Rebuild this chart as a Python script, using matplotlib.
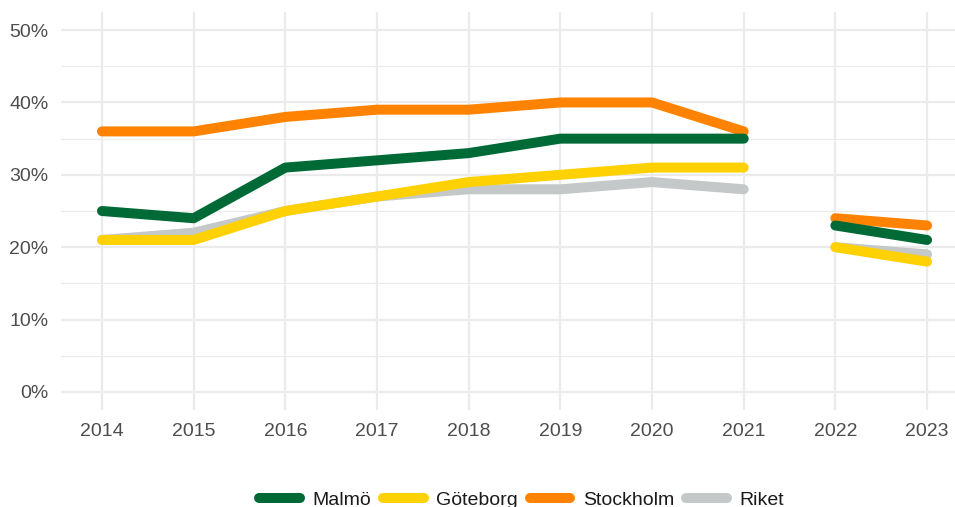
import matplotlib
matplotlib.use("Agg")
import matplotlib.pyplot as plt
import numpy as np

years = ["2014", "2015", "2016", "2017", "2018", "2019", "2020", "2021", "2022", "2023"]
malmo = [25, 24, 31, 32, 33, 35, 35, 35, np.nan, 23, 21]
goteborg = [21, 21, 25, 27, 29, 30, 31, 31, np.nan, 20, 18]
stockholm = [36, 36, 38, 39, 39, 40, 40, 36, np.nan, 24, 23]
riket = [21, 22, 25, 27, 28, 28, 29, 28, np.nan, 20, 19]

series_names = ["Malmö", "Göteborg", "Stockholm", "Riket"]
colors = {"Malmö": "#006A37", "Göteborg": "#FFD100", "Stockholm": "#FF8200", "Riket": "#C4C8C9"}
data = {"Malmö": malmo, "Göteborg": goteborg, "Stockholm": stockholm, "Riket": riket}

plt.rcParams['font.family'] = ['Liberation Sans', 'DejaVu Sans']

fig = plt.figure(figsize=(9.55, 5.07), dpi=100)
ax = fig.add_axes([61/955, (507-410)/507, (955-61)/955, (410-12)/507])

# x positions: years with a break between 2021 and 2022
xpos = list(range(8)) + [np.nan] + [8, 9]

draw_order = ["Riket", "Göteborg", "Stockholm", "Malmö"]
handles = {}
for name in draw_order:
    vals = np.array(data[name], dtype=float)
    xs = np.array(xpos, dtype=float)
    segs = []
    cur_x, cur_y = [], []
    for x, y in zip(xs, vals):
        if np.isnan(x) or np.isnan(y):
            if cur_x:
                segs.append((cur_x, cur_y))
            cur_x, cur_y = [], []
        else:
            cur_x.append(x); cur_y.append(y)
    if cur_x:
        segs.append((cur_x, cur_y))
    for i, (sx, sy) in enumerate(segs):
        ln, = ax.plot(sx, sy, color=colors[name], lw=7.2, solid_capstyle='round',
                      solid_joinstyle='round')
        if i == 0:
            handles[name] = ln

ax.set_xlim(-0.447, 9.305)
ax.set_ylim(-2.5, 52.5)
ax.set_xticks(range(10))
ax.set_xticklabels(years)
ax.set_yticks([0, 10, 20, 30, 40, 50])
ax.set_yticklabels([f"{v}%" for v in [0, 10, 20, 30, 40, 50]])
ax.set_yticks([5, 15, 25, 35, 45], minor=True)

ax.grid(True, which='major', color='#EBEBEB', lw=1.6)
ax.grid(True, which='minor', axis='y', color='#EBEBEB', lw=0.8)
ax.set_axisbelow(True)
for s in ax.spines.values():
    s.set_visible(False)
ax.tick_params(axis='both', which='both', length=0, labelsize=14, labelcolor='#4D4D4D')
ax.tick_params(axis='x', pad=9)
ax.tick_params(axis='y', pad=9)

leg = fig.legend([handles[n] for n in series_names], series_names, loc='lower center',
                 bbox_to_anchor=(0.546, -0.038), ncol=4, frameon=False, fontsize=14,
                 handlelength=2.1, columnspacing=0.6, handletextpad=0.65)
for t in leg.get_texts():
    t.set_color('#1a1a1a')

fig.savefig("out.png", dpi=100)
